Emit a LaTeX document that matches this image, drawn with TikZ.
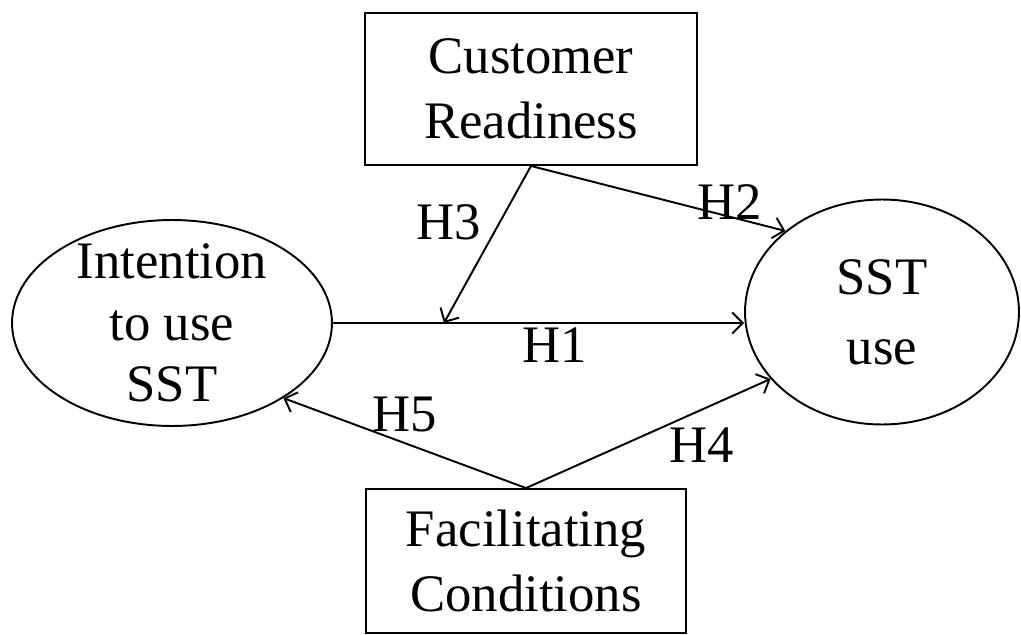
\documentclass[tikz,border=0pt]{standalone}
\usepackage{fontspec}
\setmainfont{Liberation Serif}
\usetikzlibrary{
  shapes.geometric,
  arrows.meta,
  positioning, calc
}
\tikzset{
  basebox/.style={rectangle,draw=black,line width=1.1pt,align=center,font=\fontsize{30}{37}\selectfont},
  factornode/.style={basebox,minimum width=6.64cm,minimum height=3.04cm},
  constrnode/.style={ellipse,draw=black,line width=1.1pt,align=center,inner xsep=0pt,inner ysep=-7pt,font=\fontsize{30}{35}\selectfont},
  hyplabel/.style={font=\fontsize{30}{36}\selectfont,inner sep=2pt},
  arr/.style={-{Straight Barb[length=6pt,width=12pt]},line width=1.1pt}
}
\begin{document}
\begin{tikzpicture}[x=0.02cm,y=-0.02cm]
  \useasboundingbox (0,0) rectangle (1021,635);

  %% constructs
  \node[constrnode,minimum width=6.4cm,minimum height=4.12cm] (intent) at (172,323)
    {Intention\\to use\\SST};
  \node[constrnode,minimum width=5.48cm,minimum height=4.5cm,font=\fontsize{30}{40}\selectfont] (sstuse) at (882,312)
    {SST\\use};

  %% moderators
  \node[factornode] (ready) at (531,89) {Customer\\Readiness};
  \node[factornode,minimum width=6.4cm,minimum height=2.88cm] (facil) at (526,561)
    {Facilitating\\Conditions};

  \coordinate (modpt) at ($(intent.east)!0.27!(intent.east -| sstuse.west)$);

  %% Arrows
  \draw[arr] (intent.east) -- node[hyplabel,pos=0.54,below]{H1} (intent.east -| sstuse.west);
  \draw[arr] (ready.south) -- node[hyplabel,pos=0.36,left=8pt]{H3} (modpt);
  \draw[arr] (ready.south) -- node[hyplabel,pos=0.78,yshift=0.3cm]{H2} (sstuse.140);
  \draw[arr] (facil.north) -- node[hyplabel,pos=0.72,below=8pt]{H4} (sstuse.211);
  \draw[arr] (facil.north) -- node[hyplabel,pos=0.5,above=4pt]{H5} (intent.326);
\end{tikzpicture}
\end{document}
